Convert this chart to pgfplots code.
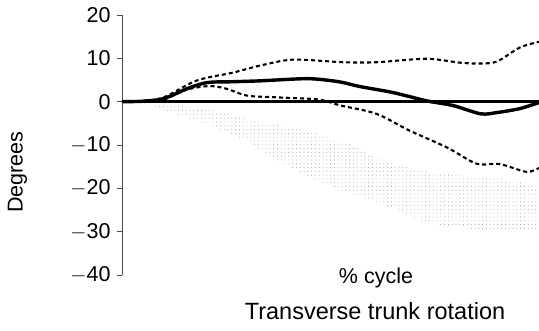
\documentclass[border=0pt]{standalone}
\usepackage{pgfplots}
\pgfplotsset{compat=1.18}
\usepackage{fontspec}
\setmainfont{Liberation Sans}
\usetikzlibrary{patterns.meta}
\begin{document}
\begin{tikzpicture}[x=1pt,y=1pt]
\useasboundingbox (0,0) rectangle (539,331);
\begin{axis}[
  at={(122pt,56pt)}, anchor=south west,
  scale only axis, width=417pt, height=260pt,
  xmin=0, xmax=100, ymin=-40, ymax=20,
  axis x line=none,
  axis y line*=left,
  y axis line style={draw=black!70, line width=0.6pt},
  ytick={-40,-30,...,20},
  yticklabels={$-$40,$-$30,$-$20,$-$10,0,10,20},
  tick align=outside, major tick length=5pt,
  ytick style={black!70, line width=0.6pt},
  yticklabel style={font=\fontsize{21.5}{24}\selectfont, xshift=-3pt},
  clip=false,
]
\addplot[draw=none, pattern={Dots[distance=3.8pt, radius=0.45pt]}, pattern color=black!45] coordinates {
 (4,0) (10,-0.6) (20,-1.6) (33,-4.6) (45,-6.8) (55,-10) (65,-14.5) (75,-16.5) (85,-17.3) (95,-18.2) (100,-20)
 (100,-29.5) (89,-30) (73,-28) (65,-24.5) (53,-20.6) (45,-17.5) (36,-13) (30,-9) (20,-5) (10,-2) (4,0)
} -- cycle;
\addplot[black, line width=3pt] coordinates {(0,0) (100,0)};
\addplot[black, line width=2.1pt, dash pattern=on 4pt off 3pt, smooth, tension=0.5] coordinates {
 (0,0) (5,0.2) (10,1) (18,4.9) (26.6,6.7) (33,8.3) (41,9.7) (53,9.1) (61,9.1) (73,9.9) (81,9) (86,8.8) (90,9.3) (95.4,12.5) (100,13.8)
};
\addplot[black, line width=2.1pt, dash pattern=on 4pt off 3pt, smooth, tension=0.5] coordinates {
 (0,0) (5,0) (10,0.5) (15.6,2.8) (21,3.6) (25,3) (30,1.4) (37,1) (47,0.5) (52.5,-0.9) (61,-2.8) (69,-6.7) (78,-10.6) (85,-14.3) (90.6,-14.4) (97,-16.2) (100,-15.3)
};
\addplot[black, line width=3.4pt, smooth, tension=0.5] coordinates {
 (0,0) (5,0.1) (10,0.7) (15.6,3) (20.4,4.4) (26.6,4.6) (33,4.8) (37,5) (45,5.3) (52,4.6) (57,3.5) (65,2.1) (73,0.2) (79.4,-0.9) (86,-2.8) (90,-2.5) (95.4,-1.6) (100,-0.2)
};
\end{axis}
\node[font=\fontsize{21.5}{24}\selectfont] at (376,53) {\% cycle};
\node[font=\fontsize{23.5}{26}\selectfont] at (375,20) {Transverse trunk rotation};
\node[font=\fontsize{21.5}{24}\selectfont, rotate=90] at (17.5,159) {Degrees};
\end{tikzpicture}
\end{document}
